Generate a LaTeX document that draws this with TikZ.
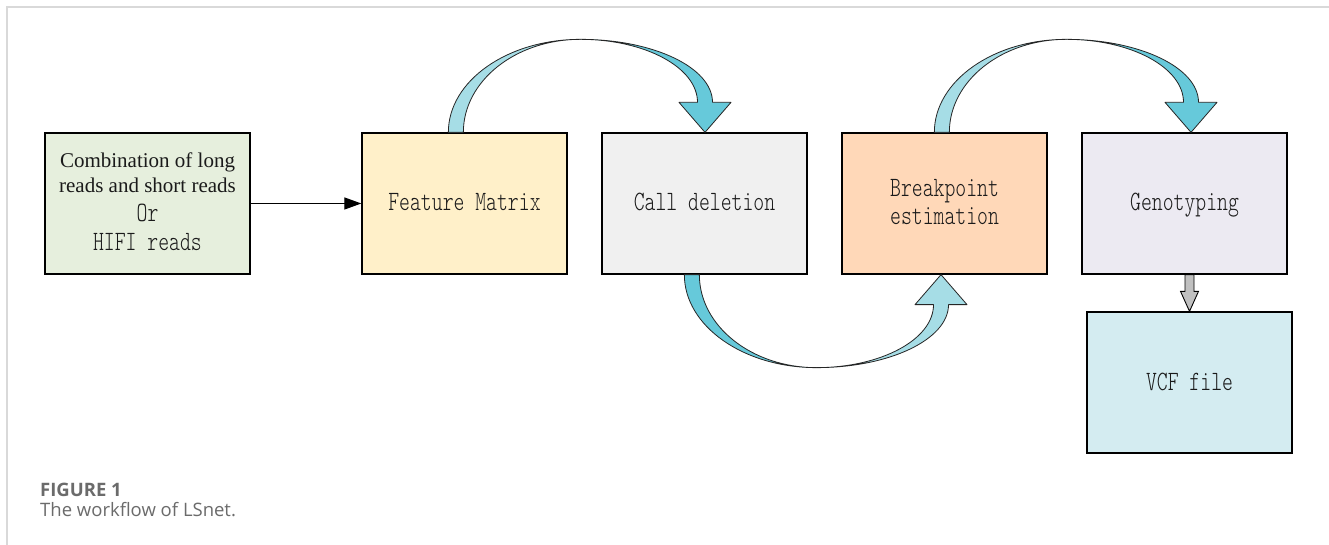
\documentclass[tikz,border=0pt]{standalone}
\usepackage{fontspec}
\setmainfont{Liberation Serif}
\newfontfamily\simfont{Latin Modern Mono Light}[FakeStretch=0.74]
\newfontfamily\capfont{Open Sans}
\usetikzlibrary{arrows.meta,calc}

\definecolor{framegray}{HTML}{D9D9D9}
\definecolor{boxgreen}{HTML}{E6EFDD}
\definecolor{boxyellow}{HTML}{FFF0C9}
\definecolor{boxgray}{HTML}{F0F0F0}
\definecolor{boxpeach}{HTML}{FFD8B8}
\definecolor{boxlilac}{HTML}{ECEAF2}
\definecolor{boxcyan}{HTML}{D4ECF1}
\definecolor{tealLight}{HTML}{A6DDE6}
\definecolor{tealDark}{HTML}{66C9DA}
\definecolor{arrowgray}{HTML}{C0C0C0}
\definecolor{inkgray}{HTML}{1A1A1A}
\definecolor{capgray}{HTML}{6B6B6B}

% Twisted ribbon arrow: #1 outer corner of the tail, #2 tip,
% #3 = 1 for an arch above, -1 for an arch below,
% #4 colour of the rising half, #5 colour of the half with the head
\newcommand\ribbonarrow[5]{%
  \path[ribbon,fill=#4] let \p1=(#1) in
    (\x1,\y1)
    .. controls (\x1,{\y1+(#3)*51.4pt}) and ({\x1+59.1pt},{\y1+(#3)*93pt})
    .. ({\x1+132pt},{\y1+(#3)*93pt})
    .. controls ({\x1+67.4pt},{\y1+(#3)*93pt}) and ({\x1+15pt},{\y1+(#3)*51.4pt})
    .. ({\x1+15pt},\y1) -- cycle;
  \path[ribbon,fill=#5] let \p1=(#1), \p2=(#2) in
    ({\x1+132pt},{\y1+(#3)*93pt})
    .. controls ({\x1+132pt+0.5523*(\x2+7.5pt-\x1-132pt)},{\y1+(#3)*93pt})
            and ({\x2+7.5pt},{\y2+(#3)*64.8pt})
    .. ({\x2+7.5pt},{\y2+(#3)*30pt})
    -- ({\x2+26pt},{\y2+(#3)*30pt})
    -- (\x2,\y2)
    -- ({\x2-26pt},{\y2+(#3)*30pt})
    -- ({\x2-7.5pt},{\y2+(#3)*30pt})
    .. controls ({\x2-7.5pt},{\y2+(#3)*64.8pt})
            and ({\x1+132pt+0.5523*(\x2-7.5pt-\x1-132pt)},{\y1+(#3)*93pt})
    .. ({\x1+132pt},{\y1+(#3)*93pt}) -- cycle;
}

\begin{document}
\begin{tikzpicture}[x=1pt,y=1pt,
  stepbox/.style={draw=black, line width=1.3pt, minimum width=205pt,
    minimum height=141pt, inner sep=0pt},
  monotext/.style={font=\simfont\fontsize{28}{28}\selectfont, text=inkgray,
    inner sep=0pt, anchor=base},
  seriftext/.style={font=\fontsize{21}{22}\selectfont, text=inkgray,
    inner sep=0pt, anchor=base},
  ribbon/.style={draw=black!85, line width=0.8pt, line join=round},
  blockarrow/.style={draw=black, line width=0.9pt, fill=arrowgray, line join=miter},
  flowline/.style={draw=black, line width=1.2pt,
    -{Triangle[length=17pt,width=12pt]}},
  capbold/.style={font=\capfont\bfseries\fontsize{18.5}{20}\selectfont,
    text=capgray, inner sep=0pt, anchor=base west},
  captext/.style={font=\capfont\fontsize{18.5}{20}\selectfont,
    text=capgray, inner sep=0pt, anchor=base west}]

\useasboundingbox (0,0) rectangle (1329,545);
\fill[white] (0,0) rectangle (1329,545);
% card edges
\draw[framegray, line width=1.5pt] (7,0) -- (7,538) -- (1329,538);

% process boxes
\node[stepbox, fill=boxgreen]  (src)  at (147.5,341.5) {};
\node[stepbox, fill=boxyellow] (feat) at (464.5,341.5) {};
\node[stepbox, fill=boxgray]   (call) at (704.5,341.5) {};
\node[stepbox, fill=boxpeach]  (bkpt) at (944.5,341.5) {};
\node[stepbox, fill=boxlilac]  (geno) at (1184.5,341.5) {};
\node[stepbox, fill=boxcyan]   (vcf)  at (1189.5,162.5) {};

% box labels
\node[seriftext] (src1) at ([yshift=35.5pt]src.center) {Combination of long};
\node[seriftext] (src2) at ([yshift=10.5pt]src.center) {reads and short reads};
\node[monotext]  (src3) at ([yshift=-18.5pt]src.center) {Or};
\node[monotext]  (src4) at ([yshift=-47.5pt]src.center) {HIFI reads};
\node[monotext]  (featlbl) at ([yshift=-7.5pt]feat.center) {Feature Matrix};
\node[monotext]  (calllbl) at ([yshift=-7.5pt]call.center) {Call deletion};
\node[monotext]  (bkpt1) at ([yshift=6.5pt]bkpt.center) {Breakpoint};
\node[monotext]  (bkpt2) at ([yshift=-21.5pt]bkpt.center) {estimation};
\node[monotext]  (genolbl) at ([yshift=-7.5pt]geno.center) {Genotyping};
\node[monotext]  (vcflbl) at ([yshift=-8.5pt]vcf.center) {VCF file};

% connectors
\draw[flowline] (src.east) -- (feat.west);

\coordinate (r1t) at ([xshift=87pt]feat.north west);
\coordinate (r1h) at ([xshift=0.5pt]call.north);
\coordinate (r2t) at ([xshift=83pt]call.south west);
\coordinate (r2h) at ([xshift=-3.5pt]bkpt.south);
\coordinate (r3t) at ([xshift=93pt]bkpt.north west);
\coordinate (r3h) at ([xshift=6.5pt]geno.north);

\ribbonarrow{r1t}{r1h}{1}{tealLight}{tealDark}
\ribbonarrow{r2t}{r2h}{-1}{tealDark}{tealLight}
\ribbonarrow{r3t}{r3h}{1}{tealLight}{tealDark}

\path[blockarrow] let \p1=(geno.south), \p2=(vcf.north) in
  ({\x2-4.5pt},\y1) -- ({\x2+4.5pt},\y1) -- ({\x2+4.5pt},{\y2+20pt})
  -- ({\x2+9pt},{\y2+20pt}) -- (\x2,\y2) -- ({\x2-9pt},{\y2+20pt})
  -- ({\x2-4.5pt},{\y2+20pt}) -- cycle;

% caption
\node[capbold] (fig) at (40,48) {FIGURE 1};
\node[captext] (cap) at (40,28) {The workflow of LSnet.};
\end{tikzpicture}
\end{document}
